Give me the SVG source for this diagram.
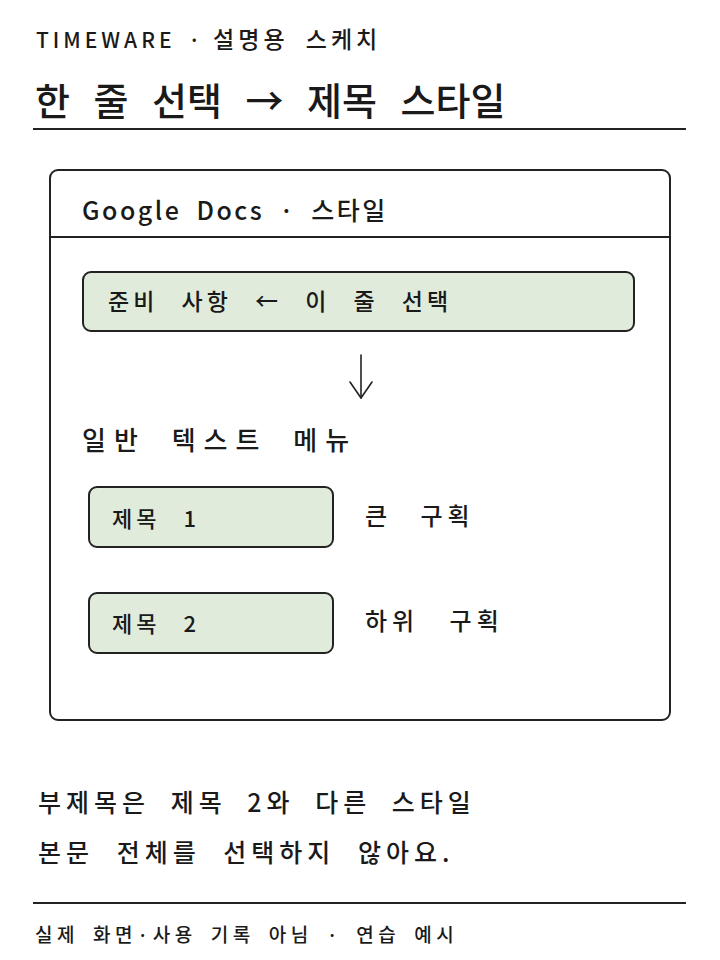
<svg xmlns="http://www.w3.org/2000/svg" width="720" height="960" viewBox="0 0 720 960">
<defs>
<style>
.t{font-family:"Noto Sans CJK KR","Noto Sans",sans-serif;fill:#1a1a1a;font-weight:500;}
.box{fill:#ffffff;stroke:#222;stroke-width:2;}
.g{fill:#e1ebdc;stroke:#222;stroke-width:2;}
.ln{stroke:#222;stroke-width:2;fill:none;}
.arr{stroke:#222;stroke-width:1.6;fill:none;stroke-linecap:round;stroke-linejoin:round;}
</style>
</defs>
<rect width="720" height="960" fill="#ffffff"/>
<g id="header">
<text class="t" x="36" y="48" font-size="21" word-spacing="8"><tspan letter-spacing="4">TIMEWARE</tspan> · <tspan font-size="23" letter-spacing="4">설명용 스케치</tspan></text>
<text class="t" x="35" y="115" font-size="38" font-weight="bold" word-spacing="15">한 줄 선택 → 제목 스타일</text>
<line class="ln" x1="33" y1="129" x2="686" y2="129"/>
</g>
<g id="docs-panel">
<rect class="box" x="50" y="170" width="620" height="550" rx="8"/>
<line class="ln" x1="50" y1="237" x2="670" y2="237"/>
<text class="t" x="82" y="220" font-size="25" letter-spacing="2.5" word-spacing="7">Google Docs · 스타일</text>
</g>
<g id="select-line">
<rect class="g" x="83" y="272" width="551" height="59" rx="8"/>
<text class="t" x="108" y="310" font-size="23" letter-spacing="4" word-spacing="14">준비 사항 ← 이 줄 선택</text>
</g>
<g id="connectors">
<line class="arr" x1="361" y1="355" x2="361" y2="398"/>
<polyline class="arr" points="350,382 361,398 372,382"/>
</g>
<g id="menu-label">
<text class="t" x="82" y="450" font-size="26" letter-spacing="8" word-spacing="12">일반 텍스트 메뉴</text>
</g>
<g id="heading1">
<rect class="g" x="89" y="487" width="244" height="60" rx="8"/>
<text class="t" x="112" y="527" font-size="22" letter-spacing="4" word-spacing="14">제목 1</text>
<text class="t" x="365" y="525" font-size="24" letter-spacing="5" word-spacing="18">큰 구획</text>
</g>
<g id="heading2">
<rect class="g" x="89" y="593" width="244" height="60" rx="8"/>
<text class="t" x="112" y="632" font-size="22" letter-spacing="4" word-spacing="14">제목 2</text>
<text class="t" x="365" y="630" font-size="24" letter-spacing="5" word-spacing="20">하위 구획</text>
</g>
<g id="notes">
<text class="t" x="38" y="812" font-size="25" letter-spacing="5" word-spacing="10">부제목은 제목 2와 다른 스타일</text>
<text class="t" x="38" y="862" font-size="25" letter-spacing="5" word-spacing="12">본문 전체를 선택하지 않아요.</text>
</g>
<g id="footer">
<line class="ln" x1="33" y1="903" x2="686" y2="903"/>
<text class="t" x="35" y="942" font-size="19" letter-spacing="4.6" word-spacing="5">실제 화면·사용 기록 아님 · 연습 예시</text>
</g>
</svg>
